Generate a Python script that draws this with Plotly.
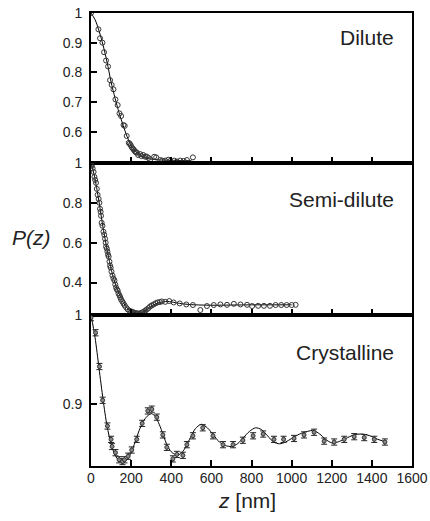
import plotly.graph_objects as go

# ---------------- data ----------------
dil_z = [0, 37, 45, 57, 65, 75, 85, 95, 103, 112, 122, 133, 142, 150, 162, 168, 178, 188, 193, 198,
         203, 208, 213, 218, 223, 228, 235, 245, 252, 260, 270, 277, 287, 295, 315, 325, 345, 355,
         370, 385, 395, 415, 428, 445, 462, 478, 490, 508]
dil_p = [1.0, 0.945, 0.915, 0.90, 0.868, 0.84, 0.82, 0.774, 0.758, 0.743, 0.709, 0.69, 0.662, 0.653,
         0.623, 0.62, 0.586, 0.563, 0.56, 0.555, 0.548, 0.544, 0.54, 0.535, 0.532, 0.53, 0.522, 0.525,
         0.518, 0.522, 0.516, 0.517, 0.512, 0.507, 0.516, 0.514, 0.505, 0.503, 0.503, 0.506, 0.502,
         0.503, 0.50, 0.503, 0.502, 0.505, 0.496, 0.514]
dil_fit_z = [0, 20, 40, 60, 80, 100, 120, 140, 160, 180, 200, 220, 240, 260, 280, 300, 350, 400, 450, 500]
dil_fit_p = [1.0, 0.978, 0.94, 0.892, 0.835, 0.768, 0.713, 0.664, 0.622, 0.584, 0.554, 0.536, 0.524,
             0.516, 0.511, 0.508, 0.505, 0.504, 0.503, 0.503]

semi_z = [0, 4, 8, 13, 17, 21, 25, 29, 33, 38, 42, 45, 48, 50, 53, 57, 62, 66, 70, 73, 75, 79, 82, 85,
          88, 92, 95, 98, 102, 107, 112, 117, 121, 125, 129, 133, 137, 142, 146, 150, 156, 162, 168,
          175, 183, 192, 200, 207, 212, 218, 225, 232, 240, 248, 256, 265, 272, 278, 287, 295, 303,
          312, 322, 332, 343, 353, 370, 390, 412, 442, 475, 508, 545, 578, 612, 645, 678, 712, 745,
          778, 803, 833, 862, 892, 920, 948, 975, 1000, 1020]
semi_p = [0.99, 0.985, 0.973, 0.955, 0.93, 0.915, 0.90, 0.87, 0.84, 0.82, 0.80, 0.77, 0.755, 0.735,
          0.70, 0.685, 0.655, 0.64, 0.62, 0.60, 0.58, 0.57, 0.555, 0.54, 0.53, 0.505, 0.485, 0.475,
          0.455, 0.435, 0.42, 0.41, 0.39, 0.375, 0.365, 0.36, 0.345, 0.335, 0.325, 0.315, 0.305,
          0.295, 0.285, 0.275, 0.265, 0.258, 0.255, 0.252, 0.25, 0.247, 0.246, 0.245, 0.244, 0.247,
          0.25, 0.255, 0.26, 0.265, 0.272, 0.28, 0.285, 0.29, 0.296, 0.30, 0.302, 0.305, 0.303,
          0.307, 0.30, 0.295, 0.29, 0.287, 0.262, 0.282, 0.287, 0.29, 0.288, 0.293, 0.29, 0.288,
          0.282, 0.283, 0.283, 0.283, 0.287, 0.287, 0.287, 0.287, 0.288]
semi_fit_z = [0, 10, 20, 30, 40, 50, 60, 70, 80, 90, 100, 110, 120, 140, 160, 180, 200, 220, 240, 260,
              280, 300, 320, 340, 360, 380, 400, 420, 450, 500, 600, 700, 800, 900, 1000]
semi_fit_p = [1.0, 0.965, 0.92, 0.865, 0.805, 0.74, 0.675, 0.62, 0.565, 0.515, 0.47, 0.43, 0.398,
              0.343, 0.30, 0.272, 0.256, 0.248, 0.246, 0.252, 0.265, 0.279, 0.291, 0.299, 0.303,
              0.305, 0.303, 0.299, 0.294, 0.289, 0.286, 0.287, 0.288, 0.288, 0.288]

cry_z = [0, 23, 42, 58, 82, 100, 105, 122, 140, 157, 167, 185, 203, 228, 255, 283, 303, 328, 358, 378,
         408, 428, 458, 478, 508, 557, 608, 658, 708, 757, 808, 858, 912, 960, 1012, 1062, 1112,
         1162, 1212, 1262, 1312, 1362, 1412, 1465]
cry_p = [0.997, 0.98, 0.942, 0.904, 0.875, 0.86, 0.852, 0.845, 0.837, 0.835, 0.837, 0.841, 0.848,
         0.86, 0.878, 0.892, 0.894, 0.885, 0.865, 0.851, 0.838, 0.843, 0.842, 0.854, 0.864, 0.873,
         0.864, 0.854, 0.854, 0.859, 0.864, 0.866, 0.86, 0.86, 0.861, 0.865, 0.868, 0.858, 0.857,
         0.86, 0.863, 0.862, 0.86, 0.857]
cry_err = 0.0035
cry_fit_z = [0, 20, 40, 60, 80, 100, 120, 140, 160, 180, 200, 220, 240, 260, 280, 300, 320, 340, 360,
             380, 400, 420, 440, 460, 480, 500, 520, 550, 580, 610, 640, 670, 700, 730, 760, 790,
             820, 850, 880, 910, 940, 970, 1000, 1040, 1080, 1110, 1140, 1170, 1200, 1230, 1270,
             1310, 1350, 1390, 1430, 1470]
cry_fit_p = [1.0, 0.975, 0.94, 0.905, 0.875, 0.855, 0.842, 0.836, 0.834, 0.837, 0.845, 0.857, 0.87,
             0.88, 0.886, 0.889, 0.886, 0.877, 0.865, 0.853, 0.846, 0.843, 0.843, 0.847, 0.855,
             0.864, 0.872, 0.877, 0.873, 0.865, 0.857, 0.853, 0.852, 0.855, 0.862, 0.869, 0.873,
             0.871, 0.864, 0.857, 0.855, 0.857, 0.861, 0.866, 0.869, 0.87, 0.866, 0.86, 0.856,
             0.857, 0.861, 0.865, 0.866, 0.864, 0.86, 0.857]

x_ticks = [0, 200, 400, 600, 800, 1000, 1200, 1400, 1600]
labels = ["Dilute", "Semi-dilute", "Crystalline"]

# ---------------- figure ----------------
fig = go.Figure()
FONT = "Liberation Sans, Arial, sans-serif"
TXT = "#222222"

def add_panel(n, z, p, fz, fp, err=None):
    xa = "x" if n == 1 else f"x{n}"
    ya = "y" if n == 1 else f"y{n}"
    fig.add_trace(go.Scatter(x=fz, y=fp, mode="lines", line=dict(color="black", width=1, shape="spline", smoothing=0.8),
                             xaxis=xa, yaxis=ya, showlegend=False, hoverinfo="skip"))
    if err is None:
        fig.add_trace(go.Scatter(x=z, y=p, mode="markers",
                                 marker=dict(symbol="circle-open", size=5, color="#333333", line=dict(width=1)),
                                 xaxis=xa, yaxis=ya, showlegend=False))
    else:
        fig.add_trace(go.Scatter(x=z, y=p, mode="markers",
                                 marker=dict(symbol="circle", size=4, color="#888888", line=dict(width=1, color="#333333")),
                                 error_y=dict(type="constant", value=err, color="#222222", thickness=1, width=3),
                                 xaxis=xa, yaxis=ya, showlegend=False))

add_panel(1, dil_z, dil_p, dil_fit_z, dil_fit_p)
add_panel(2, semi_z, semi_p, semi_fit_z, semi_fit_p)
add_panel(3, cry_z, cry_p, cry_fit_z, cry_fit_p, err=cry_err)

W, H = 430, 521
TOP, BOT, LEFT, RIGHT = 13, 466, 91, 412
PH = BOT - TOP
PW = RIGHT - LEFT
def dom(top_px, bot_px):
    return [1 - (bot_px - TOP) / PH, 1 - (top_px - TOP) / PH]

common_axis = dict(showline=True, linecolor="black", linewidth=2, mirror=True, ticks="inside",
                   ticklen=6, tickwidth=1.5, tickcolor="black", showgrid=False, zeroline=False,
                   automargin=False, ticklabeloverflow="allow",
                   tickfont=dict(family=FONT, size=14, color=TXT))

xcommon = dict(common_axis, range=[0, 1600], tickvals=x_ticks, ticktext=[str(v) for v in x_ticks])
fig.update_layout(
    xaxis=dict(xcommon, anchor="y", showticklabels=False, matches="x3"),
    xaxis2=dict(xcommon, anchor="y2", showticklabels=False, matches="x3"),
    xaxis3=dict(xcommon, anchor="y3", showticklabels=True, ticklabelstandoff=-2),
    yaxis=dict(common_axis, domain=dom(13, 163), range=[0.495, 1.0], anchor="x",
               tickvals=[0.6, 0.7, 0.8, 0.9, 1.0], ticktext=["0.6", "0.7", "0.8", "0.9", "1"], ticklabelstandoff=4),
    yaxis2=dict(common_axis, domain=dom(163, 315), range=[0.237, 1.0], anchor="x2",
                tickvals=[0.4, 0.6, 0.8, 1.0], ticktext=["0.4", "0.6", "0.8", "1"], ticklabelstandoff=4),
    yaxis3=dict(common_axis, domain=dom(315, 466), range=[0.83, 1.0], anchor="x3",
                tickvals=[0.9, 1.0], ticktext=["0.9", "1"], ticklabelstandoff=4),
)

ann = []
for lab, py in zip(labels, [37, 199, 352]):
    ann.append(dict(text=lab, x=(396 - LEFT) / PW, y=1 - (py - TOP) / PH, xref="paper", yref="paper",
                    xanchor="right", yanchor="middle", showarrow=False,
                    font=dict(family=FONT, size=21, color=TXT)))
ann.append(dict(text="<i>P(z)</i>", x=(31.7 - LEFT) / PW, y=1 - (237 - TOP) / PH, xref="paper", yref="paper",
                xanchor="center", yanchor="middle", showarrow=False, font=dict(family=FONT, size=21, color=TXT)))
ann.append(dict(text="<i>z</i> [nm]", x=(247 - LEFT) / PW, y=1 - (500 - TOP) / PH, xref="paper", yref="paper",
                xanchor="center", yanchor="middle", showarrow=False, font=dict(family=FONT, size=21, color=TXT)))

fig.update_layout(width=W, height=H,
                  margin=dict(l=LEFT, r=W - RIGHT, t=TOP, b=H - BOT),
                  paper_bgcolor="white", plot_bgcolor="white", annotations=ann)

# remove the default 8px page margin so the figure fills the window exactly; hide the mode bar
fig.write_html("out.html", config={"displayModeBar": False},
               post_script="document.body.style.margin='0';document.body.style.overflow='hidden';")
